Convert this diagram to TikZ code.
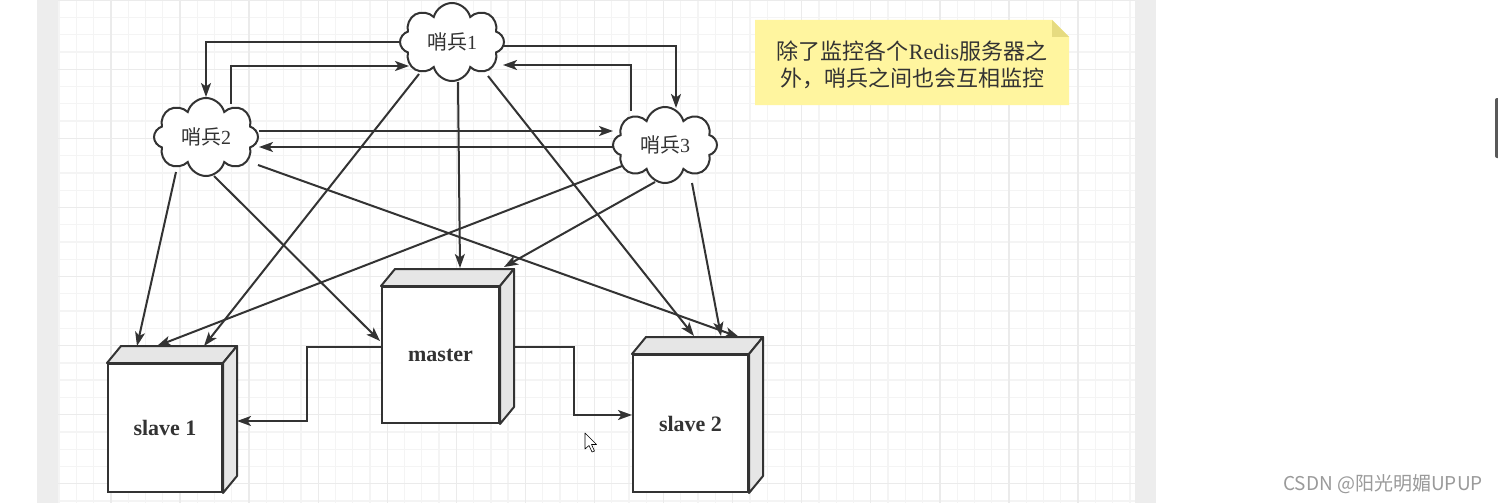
\documentclass[tikz,border=0pt]{standalone}
\usepackage{fontspec}
\setmainfont{Liberation Serif}
\newfontfamily\cjk{Noto Sans CJK SC}
\newfontfamily\lserif{Liberation Serif}
\usetikzlibrary{shapes.symbols,arrows.meta,calc}
\definecolor{ink}{HTML}{333333}
\definecolor{facegray}{HTML}{E6E6E6}
\definecolor{gridminor}{HTML}{F4F4F4}
\definecolor{gridmajor}{HTML}{EBEBEB}
\definecolor{strip}{HTML}{EDEDED}
\definecolor{notey}{HTML}{FFF59F}
\definecolor{notefold}{HTML}{E6DB80}
\definecolor{wm}{HTML}{9A9A9A}
\tikzset{
  cloudnode/.style={cloud, cloud puffs=8, cloud puff arc=150, cloud ignores aspect, draw=ink, line width=2pt, fill=white, minimum width=104pt, minimum height=78pt, inner sep=0pt, text=ink, font=\cjk\fontsize{20}{22}\selectfont},
  front/.style={draw=ink, line width=2pt, fill=white, inner sep=0pt, font=\lserif\bfseries\fontsize{22}{26}\selectfont, text=ink},
  face/.style={draw=ink, line width=2pt, fill=facegray, line join=round},
  arr/.style={draw=ink, line width=2pt, -{Stealth[length=14pt,width=10pt,inset=3.5pt]}},
  notetext/.style={font=\cjk\fontsize{22}{27}\selectfont, text=ink, align=center, inner sep=0pt},
}
\begin{document}
\begin{tikzpicture}[x=1pt,y=-1pt]
\useasboundingbox (0,0) rectangle (1498,503);
\fill[white] (0,0) rectangle (1498,503);
% side strips
\fill[strip] (37,0) rectangle (58,503);
\fill[strip] (1135,0) rectangle (1156,503);
% grid
\foreach \i in {0,...,62} {
  \pgfmathsetmacro{\gx}{59.1+17.27*\i}
  \draw[gridminor, line width=1.3pt] (\gx,0) -- (\gx,503);
}
\foreach \j in {0,...,29} {
  \pgfmathsetmacro{\gy}{0.2+17.27*\j}
  \draw[gridminor, line width=1.3pt] (58,\gy) -- (1135,\gy);
}
\foreach \i in {3,7,...,59} {
  \pgfmathsetmacro{\gx}{59.1+17.27*\i}
  \draw[gridmajor, line width=1.3pt] (\gx,0) -- (\gx,503);
}
\foreach \j in {0,4,...,28} {
  \pgfmathsetmacro{\gy}{0.2+17.27*\j}
  \draw[gridmajor, line width=1.3pt] (58,\gy) -- (1135,\gy);
}
% scrollbar piece
\fill[black!65, rounded corners=2pt] (1495,98) rectangle (1504,158);

% note
\fill[notey] (755,20) -- (1052,20) -- (1069,37) -- (1069,105) -- (755,105) -- cycle;
\fill[notefold] (1052,20) -- (1069,37) -- (1052,37) -- cycle;
\node[notetext] (note) at (912,65) {除了监控各个{\lserif Redis}服务器之\\外，哨兵之间也会互相监控};

% clouds
\node[cloudnode] (c1) at (452,42) {哨兵{\lserif 1}};
\node[cloudnode] (c2) at (206,137) {哨兵{\lserif 2}};
\node[cloudnode, minimum height=76pt] (c3) at (665,145) {哨兵{\lserif 3}};

% boxes
\node[front, minimum width=114pt, minimum height=128pt] (s1) at (165,428) {slave 1};
\node[front, minimum width=117pt, minimum height=136pt] (m) at (440.5,355) {master};
\node[front, minimum width=115pt, minimum height=137pt] (s2) at (690.5,423.5) {slave 2};
\foreach \b in {s1,m,s2} {
  \draw[face] (\b.north west) -- ++(14,-17) -- ($(\b.north east)+(14,-17)$) -- (\b.north east) -- cycle;
  \draw[face] (\b.north east) -- ++(14,-17) -- ($(\b.south east)+(14,-17)$) -- (\b.south east) -- cycle;
}

% sentinel-to-sentinel
\draw[arr] (c1.west) -| (c2.north);
\draw[arr] ($(c2)+(25,-33)$) |- ($(c1)+(-43,24)$);
\draw[arr] ($(c1)+(50,4)$) -| ($(c3)+(11,-37)$);
\draw[arr] ($(c3)+(-34,-34)$) |- ($(c1)+(51,23)$);
\draw[arr] ($(c2)+(53,-6)$) -- ($(c3)+(-52,-14)$);
\draw[arr] ($(c3)+(-52,2)$) -- ($(c2)+(53,10)$);

% sentinel-to-servers
\draw[arr] ($(c1)+(-33,32)$) -- ($(s1.north west)+(97,-17)$);
\draw[arr] ($(c1)+(6,40)$) -- ($(m.north west)+(79,-18)$);
\draw[arr] ($(c1)+(36,34)$) -- ($(s2.north west)+(62,-18)$);
\draw[arr] ($(c2)+(-30,35)$) -- ($(s1.north west)+(30,-17)$);
\draw[arr] ($(c2)+(8,39)$) -- ($(m.north west)+(-1,55)$);
\draw[arr] ($(c2)+(52,28)$) -- ($(s2.north west)+(107,-17)$);
\draw[arr] ($(c3)+(-43,21)$) -- ($(s1.north west)+(50,-17)$);
\draw[arr] ($(c3)+(-10,37)$) -- ($(m.north west)+(123,-19)$);
\draw[arr] ($(c3)+(27,38)$) -- ($(s2.north west)+(89,-18)$);

% master-to-slaves
\draw[arr] ($(m.west)+(0,-8)$) -- ++(-74,0) |- ($(s1.east)+(14,-7)$);
\draw[arr] ($(m.east)+(14,-8)$) -- ++(60,0) |- ($(s2.west)+(0,-8.5)$);

% cursor
\draw[black, fill=white, line width=0.6pt, line join=round] (585,433) -- (585,449) -- (589,445.5) -- (592,452) -- (594.5,451) -- (591.5,444.5) -- (596.5,444.5) -- cycle;

% watermark
\node[font=\cjk\fontsize{19}{21}\selectfont, text=wm, inner sep=0pt] (wmk) at (1383,484) {CSDN @阳光明媚UPUP};
\end{tikzpicture}
\end{document}
